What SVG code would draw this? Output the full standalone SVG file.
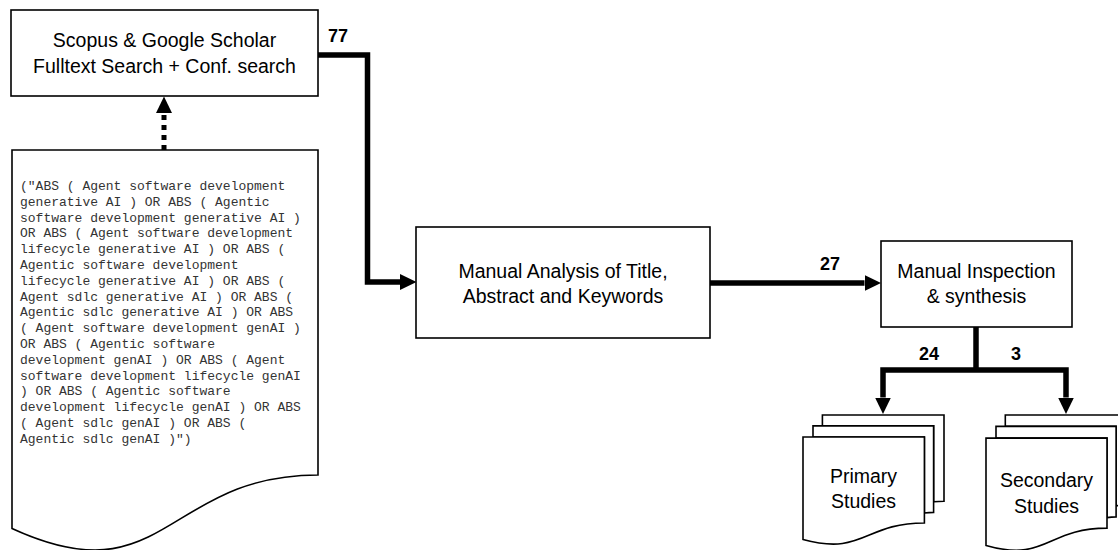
<svg xmlns="http://www.w3.org/2000/svg" width="1118" height="550" viewBox="0 0 1118 550">
  <style>
    .box { fill: #ffffff; stroke: #000000; stroke-width: 1.6; }
    .doc { fill: #ffffff; stroke: #000000; stroke-width: 1.6; stroke-linejoin: miter; }
    .lbl { font-family: "Liberation Sans", Arial, sans-serif; font-size: 19.5px; fill: #000000; text-anchor: middle; }
    .num { font-family: "Liberation Sans", Arial, sans-serif; font-size: 18px; font-weight: bold; fill: #000000; }
    .query { font-family: "Liberation Mono", "Courier New", monospace; font-size: 13px; fill: #333333; }
    .conn { fill: none; stroke: #000000; stroke-width: 5.5; stroke-linejoin: miter; }
    .dots { fill: none; stroke: #000000; stroke-width: 5; stroke-dasharray: 5 5; }
  </style>
  <defs>
    <marker id="arrow" markerUnits="userSpaceOnUse" markerWidth="17" markerHeight="16" refX="0" refY="8" orient="auto" viewBox="0 0 17 16">
      <path d="M0,0 L16.5,8 L0,16 Z" fill="#000000"/>
    </marker>
  </defs>

  <rect width="1118" height="550" fill="#ffffff"/>

  <g id="connectors">
    <line class="dots" x1="164" y1="150" x2="164" y2="113" marker-end="url(#arrow)"/>
    <path class="conn" d="M318,55 H367.5 V282 H400" marker-end="url(#arrow)"/>
    <path class="conn" d="M710,283 H864.5" marker-end="url(#arrow)"/>
    <path class="conn" d="M976,327 V370"/>
    <path class="conn" d="M976,370 H883 V397.5" marker-end="url(#arrow)"/>
    <path class="conn" d="M976,370 H1066 V397.5" marker-end="url(#arrow)"/>
    <text class="num" x="328" y="42">77</text>
    <text class="num" x="820" y="270">27</text>
    <text class="num" x="919" y="360">24</text>
    <text class="num" x="1011" y="360">3</text>
  </g>

  <g id="search">
    <rect class="box" x="11" y="10" width="307" height="86"/>
    <text class="lbl" x="164.5" y="47">Scopus &amp; Google Scholar</text>
    <text class="lbl" x="164.5" y="73">Fulltext Search + Conf. search</text>
  </g>

  <g id="query">
    <path class="doc" d="M12,150 H318 V475 C165,475 165,598.8 12,528.4 Z"/>
    <text class="query" x="20" y="190">
      <tspan x="20" y="190">("ABS ( Agent software development</tspan>
      <tspan x="20" y="205.8">generative AI ) OR ABS ( Agentic</tspan>
      <tspan x="20" y="221.6">software development generative AI )</tspan>
      <tspan x="20" y="237.4">OR ABS ( Agent software development</tspan>
      <tspan x="20" y="253.2">lifecycle generative AI ) OR ABS (</tspan>
      <tspan x="20" y="269">Agentic software development</tspan>
      <tspan x="20" y="284.8">lifecycle generative AI ) OR ABS (</tspan>
      <tspan x="20" y="300.6">Agent sdlc generative AI ) OR ABS (</tspan>
      <tspan x="20" y="316.4">Agentic sdlc generative AI ) OR ABS</tspan>
      <tspan x="20" y="332.2">( Agent software development genAI )</tspan>
      <tspan x="20" y="348">OR ABS ( Agentic software</tspan>
      <tspan x="20" y="363.8">development genAI ) OR ABS ( Agent</tspan>
      <tspan x="20" y="379.6">software development lifecycle genAI</tspan>
      <tspan x="20" y="395.4">) OR ABS ( Agentic software</tspan>
      <tspan x="20" y="411.2">development lifecycle genAI ) OR ABS</tspan>
      <tspan x="20" y="427">( Agent sdlc genAI ) OR ABS (</tspan>
      <tspan x="20" y="442.8">Agentic sdlc genAI )")</tspan>
    </text>
  </g>

  <g id="analysis">
    <rect class="box" x="416" y="227" width="294" height="111"/>
    <text class="lbl" x="563" y="278">Manual Analysis of Title,</text>
    <text class="lbl" x="563" y="303">Abstract and Keywords</text>
  </g>

  <g id="inspection">
    <rect class="box" x="881" y="241" width="191" height="86"/>
    <text class="lbl" x="976.5" y="278">Manual Inspection</text>
    <text class="lbl" x="976.5" y="303">&amp; synthesis</text>
  </g>

  <g id="primary">
    <path class="doc" d="M822.4,425.9 V415 H944 V501.2 C938.8,501.2 933.6,501.7 933.6,501.7 V425.9 Z"/>
    <path class="doc" d="M813,437 V425.9 H933.6 V512.4 C929,512.4 924.4,513 924.4,513 V437 Z"/>
    <path class="doc" d="M803,437 H924.4 V523 C863.7,523 863.7,556 803,539.5 Z"/>
    <text class="lbl" x="863.5" y="483">Primary</text>
    <text class="lbl" x="863.5" y="508">Studies</text>
  </g>

  <g id="secondary">
    <path class="doc" d="M1005.3,426.4 V415 H1126.5 V505.3 C1121.3,505.3 1116.1,505.8 1116.1,505.8 V426.4 Z"/>
    <path class="doc" d="M996,438.1 V426.4 H1116.1 V516.9 C1111.5,516.9 1107,517.6 1107,517.6 V438.1 Z"/>
    <path class="doc" d="M986,438.1 H1107 V528.1 C1046.5,528.1 1046.5,562.7 986,545.4 Z"/>
    <text class="lbl" x="1046.5" y="487">Secondary</text>
    <text class="lbl" x="1046.5" y="513">Studies</text>
  </g>
</svg>
